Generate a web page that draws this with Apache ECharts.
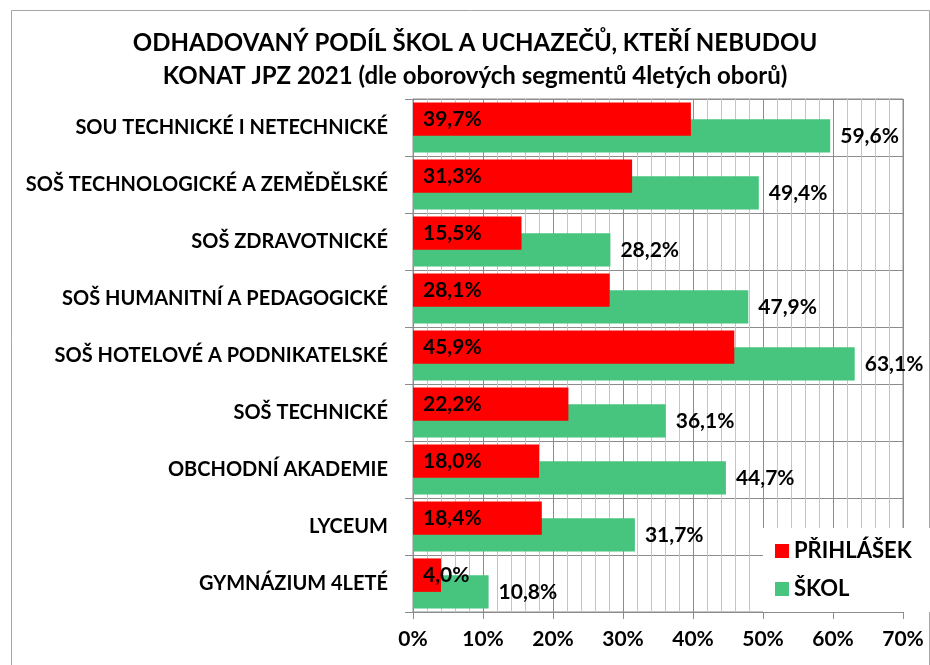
<!DOCTYPE html>
<html>
<head>
<meta charset="utf-8">
<script src="https://cdn.jsdelivr.net/npm/echarts@6/dist/echarts.min.js"></script>
<style>
  html, body { margin: 0; padding: 0; background: #fff; }
  #chart { width: 930px; height: 665px; }
</style>
</head>
<body>
<div id="chart"></div>
<script>
// kategorie (oborové segmenty 4letých oborů)
var categories = [
  'SOU TECHNICKÉ I NETECHNICKÉ',
  'SOŠ TECHNOLOGICKÉ A ZEMĚDĚLSKÉ',
  'SOŠ ZDRAVOTNICKÉ',
  'SOŠ HUMANITNÍ A PEDAGOGICKÉ',
  'SOŠ HOTELOVÉ A PODNIKATELSKÉ',
  'SOŠ TECHNICKÉ',
  'OBCHODNÍ AKADEMIE',
  'LYCEUM',
  'GYMNÁZIUM 4LETÉ'
];
var prihlasek = [39.7, 31.3, 15.5, 28.1, 45.9, 22.2, 18.0, 18.4, 4.0];
var skol = [59.6, 49.4, 28.2, 47.9, 63.1, 36.1, 44.7, 31.7, 10.8];
var xTicks = [0, 10, 20, 30, 40, 50, 60, 70];

var FONT = 'Lato';

function pct(v) {
  return v.toFixed(1).replace('.', ',') + '%';
}

var chart = echarts.init(document.getElementById('chart'));

var option = {
  backgroundColor: '#fff',
  animation: false,
  textStyle: { fontFamily: FONT },
  legend: {
    orient: 'vertical',
    left: 763,
    top: 528,
    padding: [12, 30, 12, 12],
    backgroundColor: '#fff',
    itemWidth: 14,
    itemHeight: 14,
    itemGap: 16,
    icon: 'rect',
    data: ['PŘIHLÁŠEK', 'ŠKOL'],
    textStyle: { fontFamily: FONT, fontSize: 22, fontWeight: 'bold', color: '#000' }
  },
  grid: {
    left: 413,
    right: 27,
    top: 99,
    bottom: 53,
    show: true,
    borderColor: '#8c8c8c',
    borderWidth: 1
  },
  xAxis: {
    type: 'value',
    min: xTicks[0],
    max: xTicks[xTicks.length - 1],
    interval: 10,
    axisLine: { show: true, lineStyle: { color: '#8c8c8c' } },
    axisTick: { show: true, length: 7, lineStyle: { color: '#8c8c8c' } },
    axisLabel: {
      margin: 17,
      fontFamily: FONT,
      fontSize: 21,
      fontWeight: 'bold',
      color: '#000',
      formatter: '{value}%'
    },
    splitLine: { show: true, lineStyle: { color: '#8c8c8c', width: 1 } },
    minorTick: { show: false, splitNumber: 5 },
    minorSplitLine: { show: true, lineStyle: { color: '#c4c4c4', width: 1 } }
  },
  yAxis: {
    type: 'category',
    inverse: true,
    data: categories,
    axisLine: { show: true, lineStyle: { color: '#8c8c8c' } },
    axisTick: { show: true, length: 8, lineStyle: { color: '#8c8c8c' } },
    axisLabel: {
      margin: 25,
      fontFamily: FONT,
      fontSize: 20,
      fontWeight: 'bold',
      color: '#000'
    },
    splitLine: { show: true, lineStyle: { color: '#8c8c8c' } }
  },
  series: [
    {
      name: 'PŘIHLÁŠEK',
      type: 'bar',
      data: prihlasek,
      z: 3,
      barGap: '-50%',
      barCategoryGap: '12%',
      itemStyle: { color: '#ff0000' },
      label: {
        show: true,
        position: 'insideLeft',
        distance: 10,
        fontFamily: FONT,
        fontSize: 21,
        fontWeight: 'bold',
        color: '#000',
        formatter: function (p) { return pct(p.value); }
      }
    },
    {
      name: 'ŠKOL',
      type: 'bar',
      data: skol,
      z: 2,
      barGap: '-50%',
      barCategoryGap: '12%',
      itemStyle: { color: '#47c47e' },
      label: {
        show: true,
        position: 'right',
        distance: 10,
        fontFamily: FONT,
        fontSize: 21,
        fontWeight: 'bold',
        color: '#000',
        formatter: function (p) { return pct(p.value); }
      }
    }
  ],
  graphic: [
    {
      type: 'text',
      x: 475,
      y: 27,
      style: {
        text: 'ODHADOVANÝ PODÍL ŠKOL A UCHAZEČŮ, KTEŘÍ NEBUDOU\nKONAT JPZ 2021 (dle oborových segmentů 4letých oborů)',
        textAlign: 'center',
        fontFamily: FONT,
        fontSize: 24,
        fontWeight: 'bold',
        lineHeight: 33,
        fill: '#000'
      }
    },
    {
      type: 'rect',
      left: 9,
      top: 8,
      shape: { width: 918, height: 680 },
      style: { fill: null, stroke: '#a6a6a6', lineWidth: 1 },
      silent: true,
      z: -10
    }
  ]
};

chart.setOption(option);
</script>
</body>
</html>
